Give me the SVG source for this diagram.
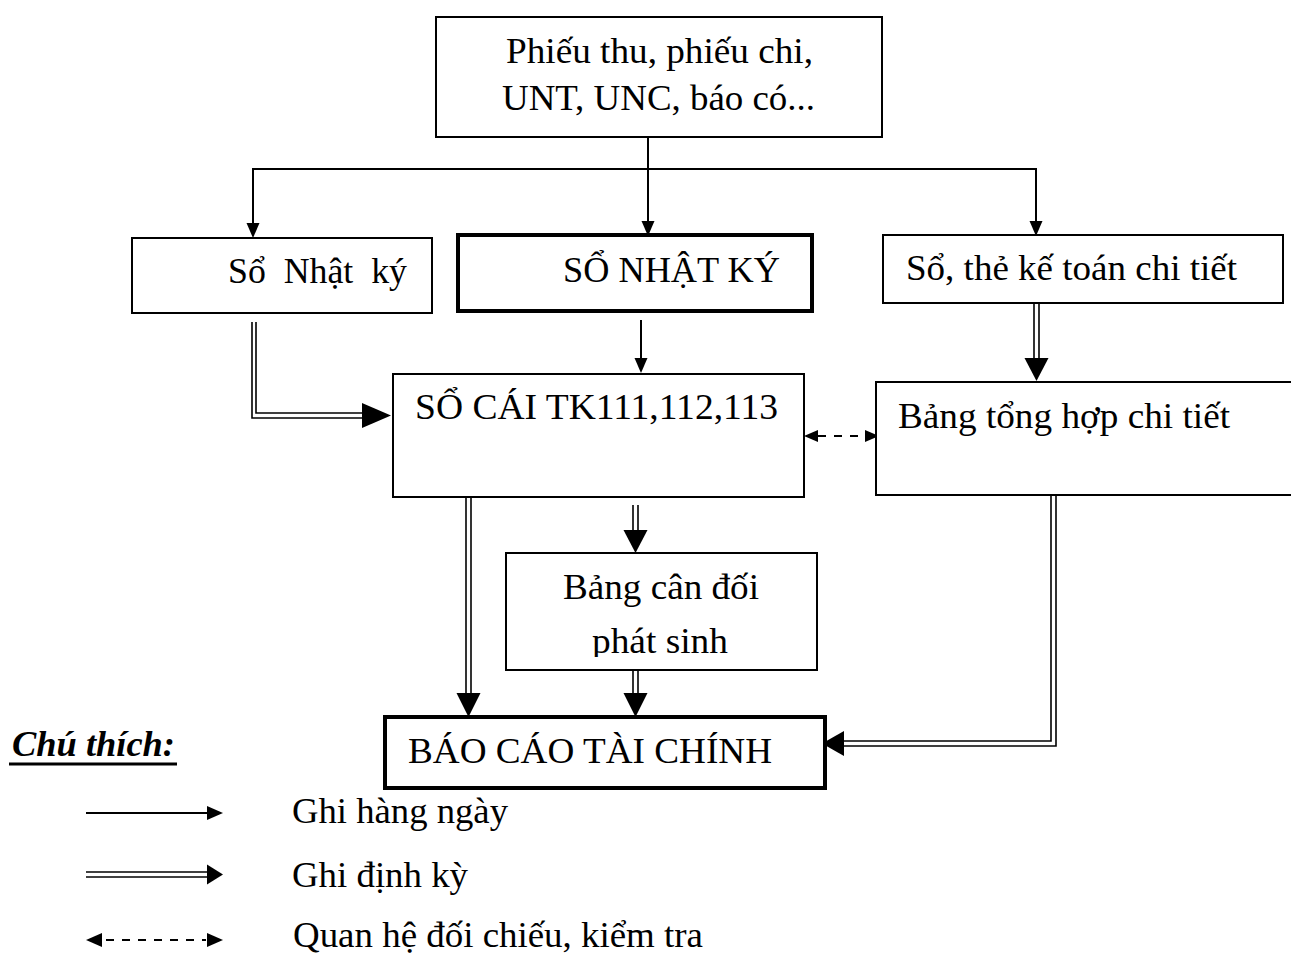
<svg xmlns="http://www.w3.org/2000/svg" width="1291" height="956" viewBox="0 0 1291 956">
  <style>
    .box { fill: #fff; stroke: #000; stroke-width: 2; }
    .thick { stroke-width: 4; }
    .t { font-family: "Liberation Serif", "Times New Roman", serif; font-size: 35px; fill: #000; white-space: pre; }
    .ln { stroke: #000; stroke-width: 2; fill: none; }
    .dl { stroke: #000; stroke-width: 1.6; fill: none; }
    .dash { stroke: #000; stroke-width: 2; fill: none; stroke-dasharray: 8 8; }
    .head { fill: #000; stroke: none; }
  </style>
  <defs>
    <clipPath id="clipBcd">
      <rect x="506" y="553" width="311" height="104"/>
    </clipPath>
  </defs>
  <rect width="1291" height="956" fill="#fff"/>

  <!-- connectors -->
  <g id="connectors">
    <!-- daily entries from source documents -->
    <line class="ln" x1="648" y1="137" x2="648" y2="222"/>
    <polygon class="head" points="641.5,221 654.5,221 648,236"/>
    <line class="ln" x1="253" y1="169" x2="1037" y2="169"/>
    <line class="ln" x1="253" y1="168" x2="253" y2="224"/>
    <polygon class="head" points="246.5,223 259.5,223 253,238"/>
    <line class="ln" x1="1036" y1="168" x2="1036" y2="222"/>
    <polygon class="head" points="1029.5,221 1042.5,221 1036,236"/>
    <line class="ln" x1="641" y1="320" x2="641" y2="360"/>
    <polygon class="head" points="634.5,358 647.5,358 641,373"/>

    <!-- periodic: Sổ Nhật ký to Sổ cái -->
    <polyline class="dl" points="252,322 252,418 364,418"/>
    <polyline class="dl" points="256,322 256,413 364,413"/>
    <polygon class="head" points="362,403 362,428 391,415.5"/>

    <!-- periodic: Sổ thẻ chi tiết to Bảng tổng hợp -->
    <line class="dl" x1="1034" y1="303" x2="1034" y2="360"/>
    <line class="dl" x1="1039" y1="303" x2="1039" y2="360"/>
    <polygon class="head" points="1024.5,358 1048.5,358 1036.5,381"/>

    <!-- cross-check between Sổ cái and Bảng tổng hợp -->
    <line class="dash" x1="818" y1="436" x2="866" y2="436"/>
    <polygon class="head" points="804,436 818,430 818,442"/>
    <polygon class="head" points="879,436 865,430 865,442"/>

    <!-- periodic: Sổ cái to Báo cáo tài chính -->
    <line class="dl" x1="466" y1="497" x2="466" y2="695"/>
    <line class="dl" x1="471" y1="497" x2="471" y2="695"/>
    <polygon class="head" points="456.5,693 480.5,693 468.5,717"/>

    <!-- periodic: Sổ cái to Bảng cân đối -->
    <line class="dl" x1="633" y1="505" x2="633" y2="532"/>
    <line class="dl" x1="638" y1="505" x2="638" y2="532"/>
    <polygon class="head" points="623.5,530 647.5,530 635.5,553"/>

    <!-- periodic: Bảng cân đối to Báo cáo tài chính -->
    <line class="dl" x1="633" y1="670" x2="633" y2="695"/>
    <line class="dl" x1="638" y1="670" x2="638" y2="695"/>
    <polygon class="head" points="623.5,693 647.5,693 635.5,717"/>

    <!-- periodic: Bảng tổng hợp to Báo cáo tài chính -->
    <polyline class="dl" points="1051,495 1051,741 842,741"/>
    <polyline class="dl" points="1056,495 1056,746 842,746"/>
    <polygon class="head" points="844,731 844,756 822,743.5"/>
  </g>

  <!-- nodes -->
  <g id="chung-tu">
    <rect class="box" x="436" y="17" width="446" height="120"/>
    <text class="t" x="506" y="63" textLength="307" lengthAdjust="spacingAndGlyphs">Phiếu thu, phiếu chi,</text>
    <text class="t" x="502" y="110" textLength="313" lengthAdjust="spacingAndGlyphs">UNT, UNC, báo có...</text>
  </g>

  <g id="so-nhat-ky-dac-biet">
    <rect class="box" x="132" y="238" width="300" height="75"/>
    <text class="t" x="228" y="283" textLength="179" lengthAdjust="spacingAndGlyphs">Sổ  Nhật  ký</text>
  </g>

  <g id="so-nhat-ky-chung">
    <rect class="box thick" x="458" y="235" width="354" height="76"/>
    <text class="t" x="563" y="282" textLength="217" lengthAdjust="spacingAndGlyphs">SỔ NHẬT KÝ</text>
  </g>

  <g id="so-the-chi-tiet">
    <rect class="box" x="883" y="235" width="400" height="68"/>
    <text class="t" x="906" y="280" textLength="331" lengthAdjust="spacingAndGlyphs">Sổ, thẻ kế toán chi tiết</text>
  </g>

  <g id="so-cai">
    <rect class="box" x="393" y="374" width="411" height="123"/>
    <text class="t" x="415" y="419" textLength="363" lengthAdjust="spacingAndGlyphs">SỔ CÁI TK111,112,113</text>
  </g>

  <g id="bang-tong-hop">
    <rect class="box" x="876" y="382" width="430" height="113"/>
    <text class="t" x="898" y="428" textLength="332" lengthAdjust="spacingAndGlyphs">Bảng tổng hợp chi tiết</text>
  </g>

  <g id="bang-can-doi">
    <rect class="box" x="506" y="553" width="311" height="117"/>
    <text class="t" x="563" y="599" textLength="196" lengthAdjust="spacingAndGlyphs">Bảng cân đối</text>
    <text class="t" x="592" y="653" textLength="136" lengthAdjust="spacingAndGlyphs" clip-path="url(#clipBcd)">phát sinh</text>
  </g>

  <g id="bao-cao-tai-chinh">
    <rect class="box thick" x="385" y="717" width="440" height="71"/>
    <text class="t" x="408" y="763" textLength="364" lengthAdjust="spacingAndGlyphs">BÁO CÁO TÀI CHÍNH</text>
  </g>

  <!-- legend -->
  <g id="legend">
    <text class="t" x="12" y="756" font-weight="bold" font-style="italic" textLength="163" lengthAdjust="spacingAndGlyphs">Chú thích:</text>
    <line x1="9" y1="764" x2="177" y2="764" stroke="#000" stroke-width="3"/>

    <line class="ln" x1="86" y1="813" x2="210" y2="813"/>
    <polygon class="head" points="207,806 207,820 223,813"/>
    <text class="t" x="292" y="823" textLength="216" lengthAdjust="spacingAndGlyphs">Ghi hàng ngày</text>

    <line class="dl" x1="86" y1="872" x2="210" y2="872"/>
    <line class="dl" x1="86" y1="877" x2="210" y2="877"/>
    <polygon class="head" points="207,864.5 207,884.5 223,874.5"/>
    <text class="t" x="292" y="887" textLength="176" lengthAdjust="spacingAndGlyphs">Ghi định kỳ</text>

    <line class="dash" x1="106" y1="940" x2="206" y2="940"/>
    <polygon class="head" points="86,940 102,933 102,947"/>
    <polygon class="head" points="223,940 207,933 207,947"/>
    <text class="t" x="293" y="947" textLength="410" lengthAdjust="spacingAndGlyphs">Quan hệ đối chiếu, kiểm tra</text>
  </g>
</svg>
